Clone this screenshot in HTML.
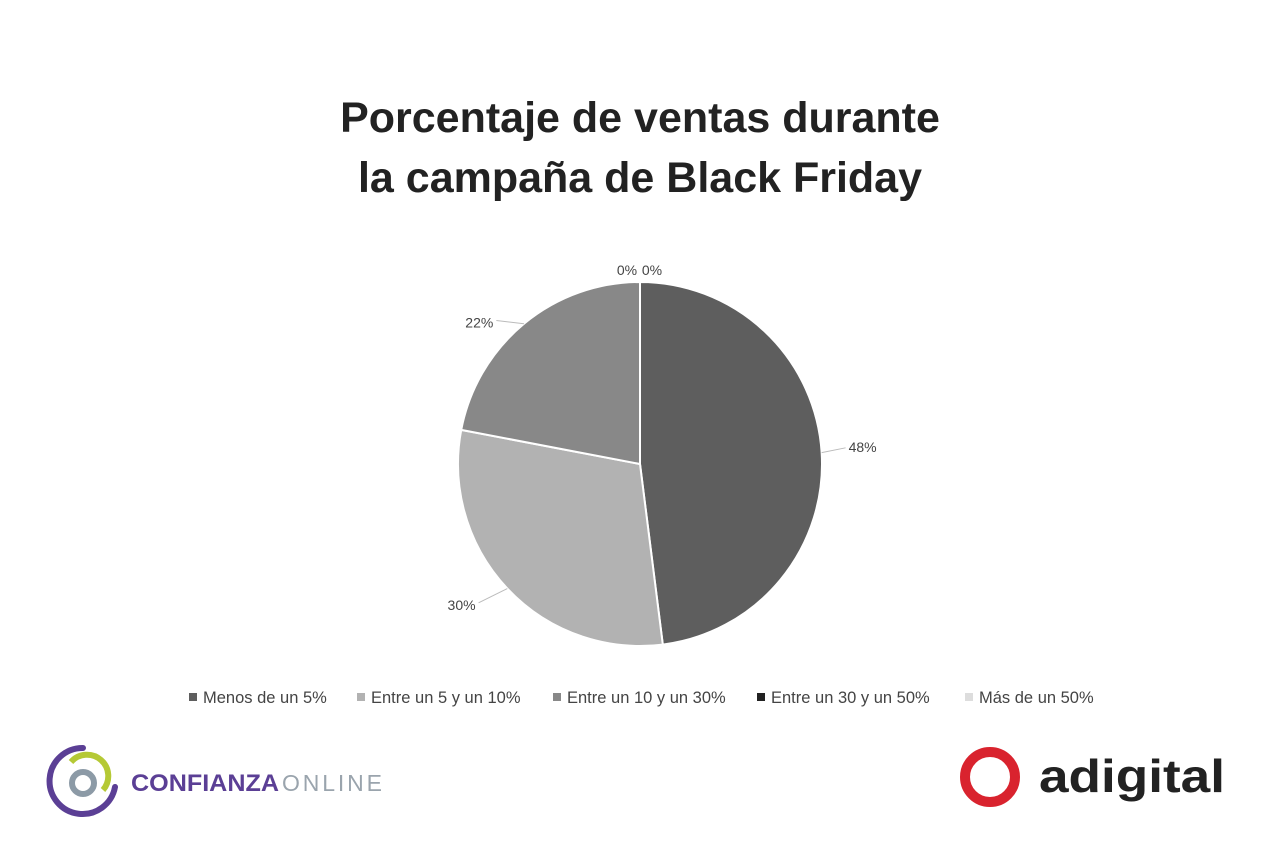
<!DOCTYPE html>
<html><head><meta charset="utf-8"><style>
body{margin:0;width:1280px;height:853px;background:#fff;font-family:"Liberation Sans",sans-serif;overflow:hidden;position:relative}
#title{position:absolute;left:0;width:1280px;top:88px;text-align:center;font-weight:bold;font-size:43px;line-height:60px;color:#222}
</style></head><body>
<div id="title">Porcentaje de ventas durante<br>la campaña de Black Friday</div>
<svg id="chart" width="1280" height="853" style="position:absolute;left:0;top:0"></svg>
<script>
const categories=["Menos de un 5%","Entre un 5 y un 10%","Entre un 10 y un 30%","Entre un 30 y un 50%","Más de un 50%"];
const values=[48,30,22,0,0];
const colors=["#5e5e5e","#b2b2b2","#888888","#222222","#dddddd"];
const svg=document.getElementById('chart');const NS="http://www.w3.org/2000/svg";
const cx=640,cy=464,r=182;
const total=values.reduce((a,b)=>a+b,0);
function mk(t,a){const e=document.createElementNS(NS,t);for(const k in a)e.setAttribute(k,a[k]);svg.appendChild(e);return e;}
function pt(ang,rad){return [cx+rad*Math.sin(ang),cy-rad*Math.cos(ang)];}
let acc=0;
const labelPos=[];
values.forEach((v,i)=>{
 const a0=acc/total*2*Math.PI;acc+=v;const a1=acc/total*2*Math.PI;
 if(v>0){const p0=pt(a0,r),p1=pt(a1,r);
 const p=mk('path',{d:`M${cx},${cy}L${p0[0]},${p0[1]}A${r},${r} 0 ${a1-a0>Math.PI?1:0} 1 ${p1[0]},${p1[1]}Z`,fill:colors[i],stroke:'#fff','stroke-width':2});
 
 }
 const m=(a0+a1)/2;labelPos.push([m,v]);
});
labelPos.forEach(([m,v],i)=>{
 let e=pt(m,r),x,y,anchor;
 if(v===0){x=i===3?627:652;y=275;anchor='middle';}
 else{const o=pt(m,r+12);const right=Math.sin(m)>0;
  const lx=o[0]+(right?12:-20),ly=o[1]+(right?0:10);
  x=lx+(right?3:-3);y=ly+(right?0:3);anchor=right?'start':'end';
  const l=mk('polyline',{points:`${e[0]},${e[1]} ${lx},${ly-4}`,fill:'none',stroke:'#bbb','stroke-width':1});
  
  }
 const t=mk('text',{x:x,y:y,'text-anchor':anchor,'font-size':14,fill:'#444'});t.textContent=v+'%';
 
 
});
const lx=[189,357,553,757,965];
categories.forEach((c,i)=>{
 const s=mk('rect',{x:lx[i],y:693,width:8,height:8,fill:colors[i]});
 
 
 const t=mk('text',{x:lx[i]+14,y:703,'font-size':16.5,fill:'#444'});t.textContent=c;
 
 
});
</script>
<svg width="340" height="80" style="position:absolute;left:45px;top:742px">
 <path d="M38,6 A33,33 0 1 0 70,45" fill="none" stroke="#5b3f95" stroke-width="6" stroke-linecap="round"/>
 <path d="M26,20 A20,20 0 1 1 58,48" fill="none" stroke="#b5c935" stroke-width="6"/>
 <circle cx="38" cy="41" r="11" fill="none" stroke="#8c9aa6" stroke-width="6"/>
 <text x="86" y="49" font-size="24" font-weight="bold" fill="#5b3f95" textLength="148" lengthAdjust="spacingAndGlyphs">CONFIANZA</text>
 <text x="237" y="49" font-size="23" fill="#9aa4ad" textLength="100" lengthAdjust="spacing">ONLINE</text>
</svg>
<svg width="290" height="80" style="position:absolute;left:950px;top:737px">
 <circle cx="40" cy="40" r="25" fill="none" stroke="#d9232e" stroke-width="10"/>
 <text x="89" y="55" font-size="46" font-weight="bold" fill="#222" textLength="186" lengthAdjust="spacingAndGlyphs">adigital</text>
</svg>
</body></html>
